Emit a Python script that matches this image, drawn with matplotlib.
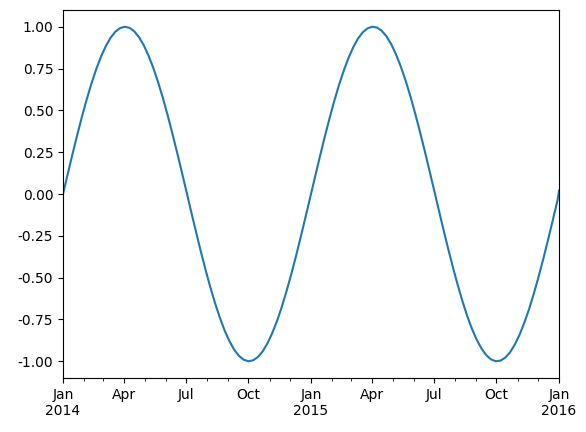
import matplotlib
matplotlib.use("Agg")
import matplotlib.pyplot as plt
import matplotlib.dates as mdates
import numpy as np
import pandas as pd

# weekly samples, starting 2014-01-01, plus the final point at 2016-01-01
values = [
    0.000, 0.120, 0.239, 0.354, 0.464, 0.567, 0.662, 0.747, 0.822, 0.884,
    0.934, 0.970, 0.992, 1.000, 0.993, 0.972, 0.937, 0.888, 0.826, 0.753,
    0.668, 0.574, 0.471, 0.361, 0.247, 0.129, 0.009, -0.112, -0.230, -0.346,
    -0.456, -0.560, -0.655, -0.741, -0.817, -0.880, -0.931, -0.968, -0.991, -1.000,
    -0.994, -0.974, -0.940, -0.892, -0.831, -0.759, -0.675, -0.581, -0.479, -0.370,
    -0.255, -0.137, -0.017, 0.103, 0.222, 0.338, 0.448, 0.553, 0.649, 0.735,
    0.812, 0.876, 0.928, 0.966, 0.990, 1.000, 0.995, 0.976, 0.943, 0.896,
    0.836, 0.764, 0.681, 0.588, 0.486, 0.378, 0.264, 0.146, 0.026, -0.094,
    -0.214, -0.329, -0.440, -0.545, -0.642, -0.730, -0.807, -0.872, -0.924, -0.964,
    -0.989, -1.000, -0.996, -0.978, -0.946, -0.900, -0.841, -0.769, -0.688, -0.595,
    -0.494, -0.386, -0.272, -0.154, -0.034, 0.020,
]
dates = list(pd.date_range("2014-01-01", periods=105, freq="7D")) + [pd.Timestamp("2016-01-01")]

major_dates = ["2014-01-01", "2014-04-01", "2014-07-01", "2014-10-01",
               "2015-01-01", "2015-04-01", "2015-07-01", "2015-10-01", "2016-01-01"]
major_labels = ["Jan\n2014", "Apr", "Jul", "Oct", "Jan\n2015", "Apr", "Jul", "Oct", "Jan\n2016"]
y_ticks = [-1.00, -0.75, -0.50, -0.25, 0.00, 0.25, 0.50, 0.75, 1.00]

fig = plt.figure(figsize=(5.86, 4.32), dpi=100)
ax = fig.add_axes([63 / 586, 54 / 432, 496 / 586, 368 / 432])
ax.plot(pd.to_datetime(dates), values, color="#1f77b4", linewidth=1.5)

ax.set_xlim(pd.Timestamp("2014-01-01"), pd.Timestamp("2016-01-01"))
ax.set_ylim(-1.1, 1.1)
ax.set_xticks(pd.to_datetime(major_dates))
ax.set_xticklabels(major_labels)
ax.xaxis.set_minor_locator(mdates.MonthLocator())
ax.set_yticks(y_ticks)
ax.set_yticklabels([f"{v:.2f}" for v in y_ticks])

fig.savefig("out.png", dpi=100)
